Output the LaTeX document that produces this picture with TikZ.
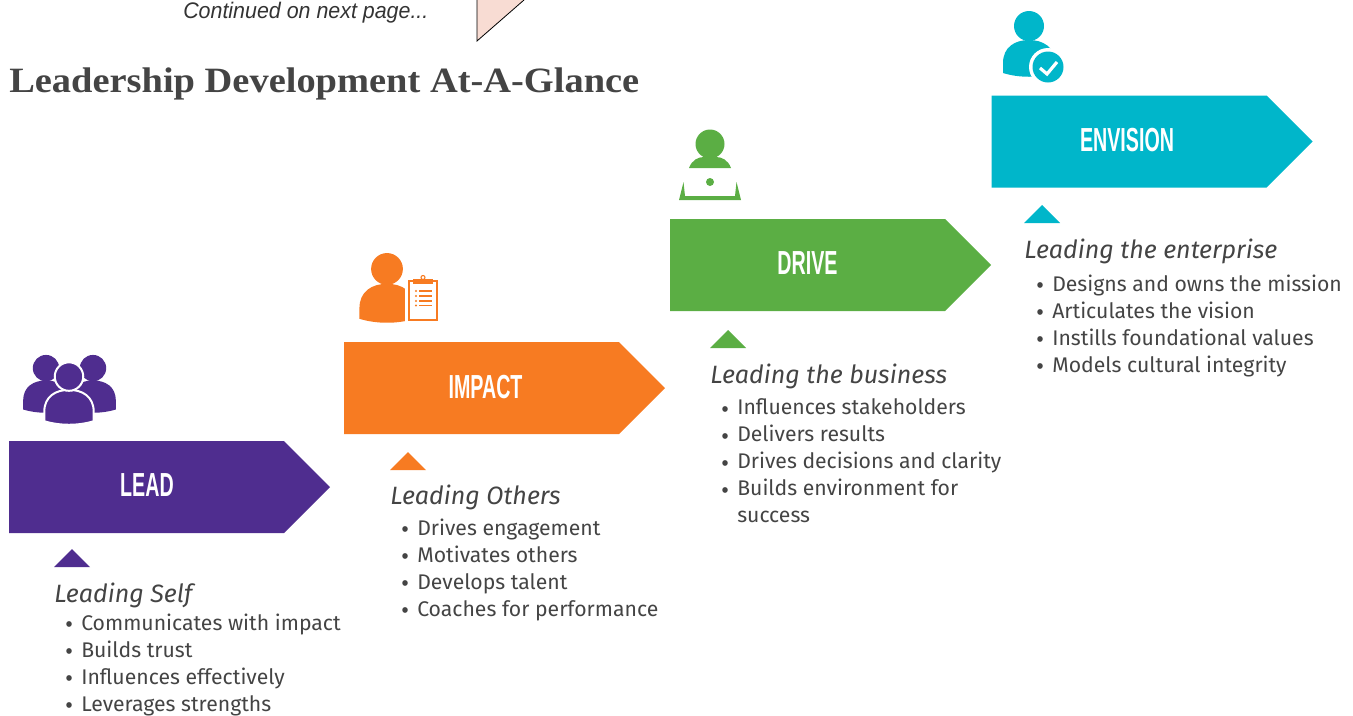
\documentclass[tikz,border=0pt]{standalone}
\usepackage{fontspec}
\setmainfont{Fira Sans}
\newfontfamily\titlefont[FakeStretch=1.08]{Liberation Serif}
\newfontfamily\notefont[FakeStretch=0.95]{Liberation Sans}
\newfontfamily\bannerfont[FakeStretch=0.59]{Liberation Sans}
\definecolor{leadcolor}{HTML}{4F2D8F}
\definecolor{impactcolor}{HTML}{F77B22}
\definecolor{drivecolor}{HTML}{5BAE44}
\definecolor{envisioncolor}{HTML}{00B6CA}
\definecolor{textgray}{HTML}{444444}
\definecolor{pagepink}{HTML}{F8DCD3}
\newcommand{\itembullet}{\llap{\raisebox{-1pt}{\notefont\textbullet}\hspace{6.5pt}}}

\begin{document}
\begin{tikzpicture}[x=0.75pt, y=-0.75pt,
    banner/.style={font=\bannerfont\bfseries\fontsize{25}{25}\selectfont, text=white, inner sep=0pt, anchor=center},
    heading/.style={font=\itshape\fontsize{18.8}{22}\selectfont, text=textgray, inner sep=0pt, anchor=base west},
    itemlist/.style={font=\fontsize{15.9}{20.25}\selectfont, text=textgray, inner sep=0pt, anchor=north west, align=left},
    stagearrow/.pic={\path[pic actions] (0,0) -- (275,0) -- (321,46) -- (275,92) -- (0,92) -- cycle;},
    stagemark/.pic={\path[pic actions] (0,0) -- (18,-18) -- (36,0) -- cycle;},
    person/.pic={
      \path[pic actions] (-26,-4) -- (-26,-14) .. controls (-26,-30) and (-14,-37) .. (0,-37)
        .. controls (14,-37) and (26,-30) .. (26,-14) -- (26,-4) .. controls (10,1) and (-10,1) .. (-26,-4) -- cycle;
      \path[pic actions] (0,-51) circle (15);
    }
    ]
    \useasboundingbox (0,0) rectangle (1353,715);

    \node[font=\notefont\itshape\fontsize{16.9}{18}\selectfont, text=black!80, inner sep=0pt, anchor=base west] (note) at (183,18) {Continued on next page...};
    \fill[pagepink] (477,0) -- (477,41) -- (524,0) -- cycle;
    \draw[black, line width=0.6pt] (477,0) -- (477,41) -- (524,0);
    \node[font=\titlefont\bfseries\fontsize{26.7}{30}\selectfont, text=textgray, inner sep=0pt, anchor=base west] (title) at (9,92.5) {Leadership Development At-A-Glance};

    \pic[fill=leadcolor] at (9,441) {stagearrow};
    \pic[fill=leadcolor] at (54,567) {stagemark};
    \node[banner] (lead) at (147,485.5) {LEAD};
    \node[heading] (leadhead) at (54,602) {Leading Self};
    \node[itemlist] (leadlist) at (81,613.5) {\itembullet Communicates with impact\\ \itembullet Builds trust\\ \itembullet Influences effectively\\ \itembullet Leverages strengths};
    \pic[fill=leadcolor, scale=0.88] at (46,413) {person};
    \pic[fill=leadcolor, scale=0.88] at (93,413) {person};
    \pic[fill=leadcolor, draw=white, line width=1.5pt, scale=0.95] at (69,425) {person};

    \pic[fill=impactcolor] at (344,342) {stagearrow};
    \pic[fill=impactcolor] at (390,470) {stagemark};
    \node[banner] (impact) at (485.5,387) {IMPACT};
    \node[heading] (impacthead) at (390,504) {Leading Others};
    \node[itemlist] (impactlist) at (417,518.5) {\itembullet Drives engagement\\ \itembullet Motivates others\\ \itembullet Develops talent\\ \itembullet Coaches for performance};
    \pic[fill=impactcolor, scale=1.06] at (387,323) {person};
    \fill[white] (405,275) rectangle (445,330);
    \draw[impactcolor, line width=1.5pt] (409,281) rectangle (437,320);
    \fill[impactcolor] (413,279) rectangle (433,284);
    \draw[impactcolor, line width=0.8pt] (423,277.5) circle (2);
    \draw[impactcolor, line width=1.2pt] (419,291) -- (431.5,291);
    \draw[impactcolor, line width=1.2pt] (419,296) -- (431.5,296);
    \draw[impactcolor, line width=1.2pt] (419,301) -- (431.5,301);
    \draw[impactcolor, line width=1.2pt] (419,305.5) -- (431.5,305.5);
    \fill[impactcolor] (416,291) circle (1.2);
    \fill[impactcolor] (416,296) circle (1.2);
    \fill[impactcolor] (416,301) circle (1.2);
    \fill[impactcolor] (416,305.5) circle (1.2);

    \pic[fill=drivecolor] at (670,219) {stagearrow};
    \pic[fill=drivecolor] at (710,348) {stagemark};
    \node[banner] (drive) at (807.5,263.5) {DRIVE};
    \node[heading] (drivehead) at (710,383) {Leading the business};
    \node[itemlist] (drivelist) at (737,398.5) {\itembullet Influences stakeholders\\ \itembullet Delivers results\\ \itembullet Drives decisions and clarity\\ \itembullet Builds environment for\\ success};
    \fill[drivecolor] (710,144) circle (14.5);
    \fill[drivecolor] (689,168) .. controls (692,160) and (698,157) .. (704,157) -- (716,157) .. controls (722,157) and (728,160) .. (731,168) -- cycle;
    \fill[drivecolor] (710,182) circle (4);
    \fill[drivecolor] (679,200) -- (683.5,182) -- (685,196) -- (735,196) -- (736.5,182) -- (741,200) -- cycle;

    \pic[fill=envisioncolor] at (991.5,95.5) {stagearrow};
    \pic[fill=envisioncolor] at (1024,223) {stagemark};
    \node[banner] (envision) at (1127,140) {ENVISION};
    \node[heading] (envisionhead) at (1024,258) {Leading the enterprise};
    \node[itemlist] (envisionlist) at (1052,274.5) {\itembullet Designs and owns the mission\\ \itembullet Articulates the vision\\ \itembullet Instills foundational values\\ \itembullet Models cultural integrity};
    \pic[fill=envisioncolor] at (1029,77) {person};
    \fill[white] (1048,67) circle (19);
    \fill[envisioncolor] (1048,67) circle (15.5);
    \draw[white, line width=2.4pt] (1040,68) -- (1047,74) -- (1057,62);
  \end{tikzpicture}
\end{document}
